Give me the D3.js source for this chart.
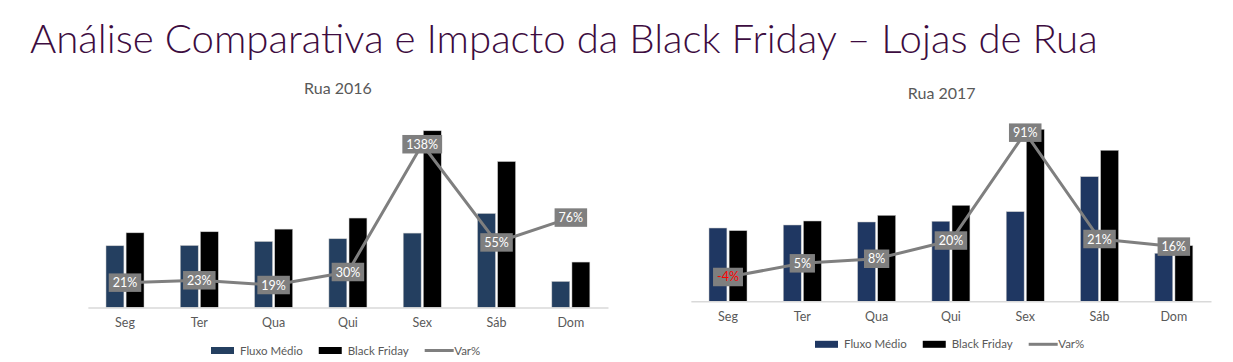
<!DOCTYPE html>
<html>
<head>
<meta charset="utf-8">
<script src="https://cdn.jsdelivr.net/npm/d3@7"></script>
<style>
  body { margin: 0; background: #fff; }
  svg { display: block; font-family: Lato, "Open Sans", sans-serif; }
</style>
</head>
<body>
<svg id="chart" width="1233" height="362"></svg>
<script>
// data
const categories = ["Seg", "Ter", "Qua", "Qui", "Sex", "Sáb", "Dom"];
const seriesNames = ["Fluxo Médio", "Black Friday", "Var%"];

const fluxo2016 = [652, 655, 697, 726, 786, 993, 275];
const bf2016 = [789, 800, 828, 945, 1867, 1542, 480];
const var2016 = [21, 23, 19, 30, 138, 55, 76];

const fluxo2017 = [804, 837, 870, 878, 983, 1367, 527];
const bf2017 = [775, 881, 943, 1053, 1887, 1657, 610];
const var2017 = [-4, 5, 8, 20, 91, 21, 16];

const colors = { fluxo: "#243c60", bf: "#000000", line: "#7f7f7f", text: "#595959" };

var svg = d3.select("#chart");

// main title, fitted to its width in the picture
var title = svg.append("text")
    .attr("x", 30).attr("y", 53)
    .attr("fill", "#3d0c40")
    .style("font-size", "40px").style("font-weight", 300)
    .text("Análise Comparativa e Impacto da Black Friday – Lojas de Rua");
var tw = title.node().getComputedTextLength();
title.style("font-size", (40 * 1068 / tw) + "px");

function drawChart(cfg) {
    var g = svg.append("g");
    var rows = categories.map(function(c, i) {
        return { cat: c, fluxo: cfg.fluxo[i], bf: cfg.bf[i], v: cfg.vars[i] };
    });

    var x0 = d3.scaleBand().domain(categories).range([cfg.left, cfg.right]);
    var x1 = d3.scaleBand().domain(["fluxo", "bf"]).range([0, 38]).paddingInner(0.11);
    var y = d3.scaleLinear().domain([0, 2000]).range([cfg.bottom, cfg.top]);
    var yv = d3.scaleLinear().domain(cfg.varDomain).range([cfg.bottom, cfg.top]);
    var off = (x0.bandwidth() - 38) / 2;

    g.append("text")
        .attr("x", cfg.titleX).attr("y", cfg.titleY)
        .attr("text-anchor", "middle").attr("dy", "0.35em")
        .attr("fill", colors.text).style("font-size", "16px")
        .text(cfg.title);

    var groups = g.selectAll(".cat").data(rows).enter().append("g")
        .attr("transform", function(d) { return "translate(" + (x0(d.cat) + off) + ",0)"; });

    groups.selectAll("rect")
        .data(function(d) { return [{ k: "fluxo", v: d.fluxo }, { k: "bf", v: d.bf }]; })
        .enter().append("rect")
        .attr("x", function(d) { return x1(d.k); })
        .attr("y", function(d) { return y(d.v); })
        .attr("width", x1.bandwidth())
        .attr("height", function(d) { return cfg.bottom - y(d.v); })
        .attr("fill", function(d) { return d.k == "fluxo" ? cfg.blue : colors.bf; })
        .attr("stroke", "#c8c8c8").attr("stroke-width", 0.5);

    var axis = g.append("g")
        .attr("transform", "translate(0," + cfg.bottom + ")")
        .call(d3.axisBottom(x0).tickSize(0).tickPadding(11));
    axis.select(".domain").attr("stroke", "#d9d9d9").attr("stroke-width", 1.5);
    axis.selectAll("text").attr("fill", colors.text)
        .style("font-size", "12.5px").style("font-family", "Lato, 'Open Sans', sans-serif");

    var line = d3.line()
        .x(function(d) { return x0(d.cat) + x0.bandwidth() / 2; })
        .y(function(d) { return yv(d.v); });
    g.append("path").datum(rows)
        .attr("d", line).attr("fill", "none")
        .attr("stroke", colors.line).attr("stroke-width", 3)
        .attr("stroke-linejoin", "round");

    var labels = g.selectAll(".lbl").data(rows).enter().append("g")
        .attr("transform", function(d) {
            return "translate(" + (x0(d.cat) + x0.bandwidth() / 2) + "," + yv(d.v) + ")";
        });
    labels.append("rect").attr("fill", "#7f7f7f");
    labels.append("text")
        .attr("text-anchor", "middle").attr("dy", "0.36em")
        .attr("fill", function(d) { return d.v < 0 ? "#ff0000" : "#ffffff"; })
        .style("font-size", "12.5px")
        .text(function(d) { return d.v + "%"; });
    labels.each(function() {
        var w = d3.select(this).select("text").node().getComputedTextLength() + 8;
        d3.select(this).select("rect")
            .attr("x", -w / 2).attr("y", -9.25).attr("width", w).attr("height", 18.5);
    });

    // legend
    var lg = g.append("g").attr("transform", "translate(" + cfg.legendX + "," + (cfg.bottom + 43) + ")");
    var cx = 0;
    seriesNames.forEach(function(name, i) {
        if (i < 2) {
            lg.append("rect").attr("x", cx).attr("y", -3.5).attr("width", 23).attr("height", 7)
                .attr("fill", i == 0 ? cfg.blue : colors.bf);
            cx += 29;
        } else {
            lg.append("line").attr("x1", cx).attr("x2", cx + 29).attr("y1", 0).attr("y2", 0)
                .attr("stroke", colors.line).attr("stroke-width", 3);
            cx += 29.5;
        }
        var t = lg.append("text").attr("x", cx).attr("dy", "0.35em")
            .attr("fill", colors.text).style("font-size", "11.5px").text(name);
        cx += t.node().getComputedTextLength() + 16;
    });
}

drawChart({
    title: "Rua 2016", fluxo: fluxo2016, bf: bf2016, vars: var2016,
    left: 87.85, right: 608, top: 118.2, bottom: 307.5, varDomain: [0, 160],
    titleX: 338, titleY: 88, legendX: 211, blue: "#243f60"
});
drawChart({
    title: "Rua 2017", fluxo: fluxo2017, bf: bf2017, vars: var2017,
    left: 690.85, right: 1211, top: 119, bottom: 301.3, varDomain: [-20, 100],
    titleX: 941.7, titleY: 93, legendX: 815, blue: "#1f3762"
});
</script>
</body>
</html>
